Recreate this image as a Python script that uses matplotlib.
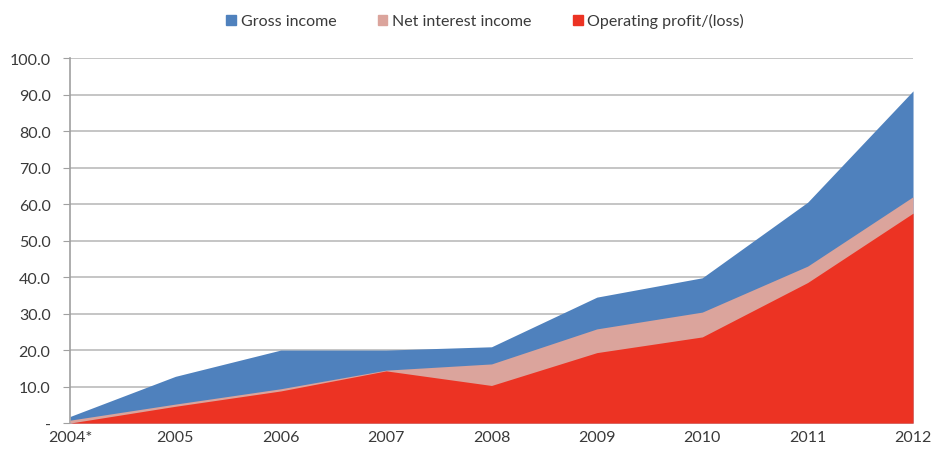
import matplotlib.pyplot as plt
from matplotlib.patches import Patch

years = ["2004*", "2005", "2006", "2007", "2008", "2009", "2010", "2011", "2012"]
gross_income = [1.8, 12.8, 20.0, 20.0, 20.9, 34.5, 39.8, 60.5, 91.0]
net_interest = [0.8, 5.2, 9.4, 14.5, 16.2, 25.8, 30.4, 43.0, 62.0]
operating_profit = [0.0, 4.6, 8.8, 14.3, 10.3, 19.3, 23.6, 38.5, 57.5]

blue = "#4f81bd"
pink = "#dba49c"
red = "#ec3323"
grey = "#3a3a3a"

plt.rcParams["font.family"] = ["Lato", "DejaVu Sans"]

fig = plt.figure(figsize=(9.33, 4.56), dpi=100)
ax = fig.add_axes([0.075, 0.07, 0.9036, 0.8006])

x = list(range(len(years)))
ax.fill_between(x, 0, gross_income, color=blue, linewidth=0, zorder=2)
ax.fill_between(x, 0, net_interest, color=pink, linewidth=0, zorder=3)
ax.fill_between(x, 0, operating_profit, color=red, linewidth=0, zorder=4)

ax.set_xlim(0, len(years) - 1)
ax.set_ylim(0, 100)
ax.set_yticks(range(0, 101, 10))
ax.set_yticklabels(["-"] + ["%.1f" % v for v in range(10, 101, 10)])
ax.set_xticks(x)
ax.set_xticklabels(years)

ax.grid(axis="y", color="#c0c0c0", linewidth=1.3, zorder=1)
for s in ["top", "right", "bottom"]:
    ax.spines[s].set_visible(False)
ax.spines["left"].set_color("#a0a0a0")
ax.spines["left"].set_linewidth(1.2)
ax.tick_params(axis="y", length=5, color="#a0a0a0", labelsize=11.5, labelcolor=grey, pad=9)
ax.tick_params(axis="x", length=0, labelsize=11.5, labelcolor=grey, pad=5)

handles = [Patch(color=blue), Patch(color=pink), Patch(color=red)]
fig.legend(handles, ["Gross income", "Net interest income", "Operating profit/(loss)"],
           loc="upper center", bbox_to_anchor=(0.52, 1.0), ncol=3, frameon=False,
           fontsize=11.5, labelcolor=grey, handlelength=0.6, handleheight=0.6,
           handletextpad=0.3, columnspacing=2.6)

fig.savefig("out.png", dpi=100)
